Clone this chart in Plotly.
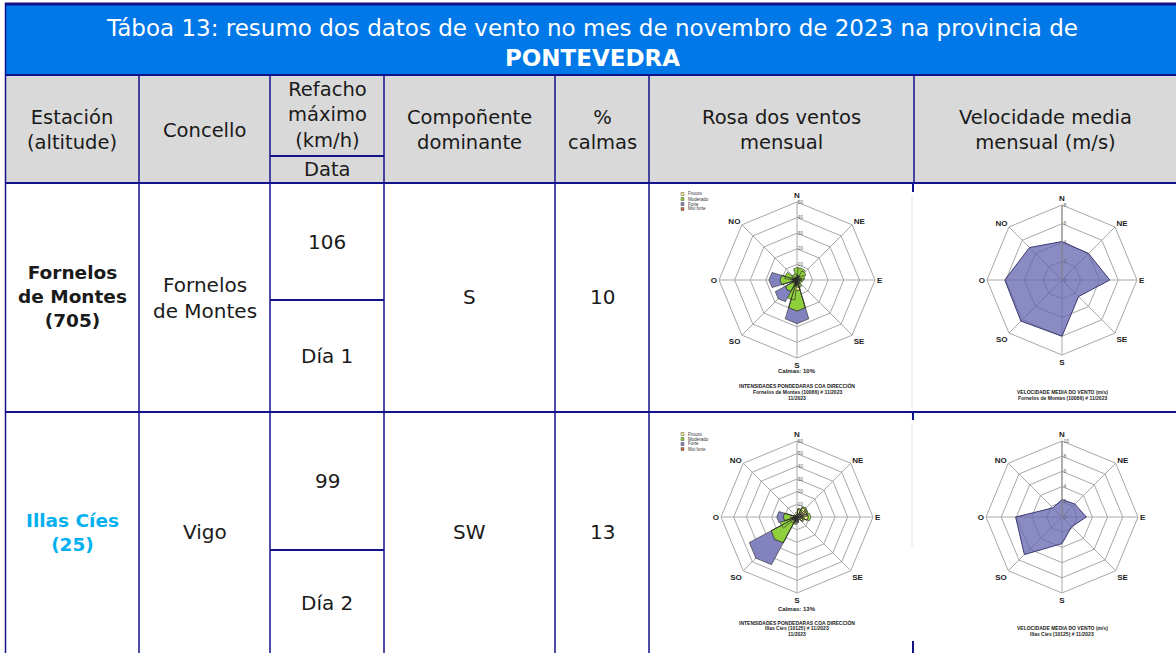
import plotly.graph_objects as go

W, H = 1176, 653

NAVY = "#12128a"
BLUE = "#0078e7"
GREY = "#d9d9d9"
CYAN = "#00b0f0"
TEXT = "#1a1a1a"
FONT = "DejaVu Sans"
CHART_FONT = "Liberation Sans"

TITLE_LINE_1 = "Táboa 13: resumo dos datos de vento no mes de novembro de 2023 na provincia de"
TITLE_LINE_2 = "PONTEVEDRA"

HEADERS = [
    "Estación<br>(altitude)",
    "Concello",
    "Refacho<br>máximo<br>(km/h)",
    "Compoñente<br>dominante",
    "%<br>calmas",
    "Rosa dos ventos<br>mensual",
    "Velocidade media<br>mensual (m/s)",
]
HEADER_DATE = "Data"

STATIONS = ["Fornelos<br>de Montes<br>(705)", "Illas Cíes<br>(25)"]
STATION_COLORS = [TEXT, CYAN]
COUNCILS = ["Fornelos<br>de Montes", "Vigo"]
MAX_GUST = ["106", "99"]
GUST_DAY = ["Día 1", "Día 2"]
DOMINANT = ["S", "SW"]
CALM = [10, 13]
STATION_CODES = ["Fornelos de Montes (10086)", "Illas Cíes (10125)"]
MONTH = "11/2023"

ROSE_DIRECTIONS = ["N", "NNE", "NE", "ENE", "E", "ESE", "SE", "SSE",
                   "S", "SSO", "SO", "OSO", "O", "ONO", "NO", "NNO"]
ROSE_CLASSES = ["Frouxo", "Moderado", "Forte", "Moi forte"]
ROSE_COLORS = ["#f0f08c", "#8fcf3c", "#8282be", "#c0704a"]

# % frequency per direction and class
FORNELOS_ROSE = [
    [3, 3, 3, 2, 3, 2, 2, 3, 7, 4, 3, 2, 4, 3, 2, 2],
    [5, 5, 4, 3, 1, 1, 0, 2, 13, 9, 6, 1, 7, 5, 2, 2],
    [0, 0, 0, 0, 0, 0, 0, 0, 8, 0, 8, 0, 7, 0, 0, 0],
    [0, 0, 0, 0, 0, 0, 0, 0, 0, 0, 0, 0, 0, 0, 0, 0],
]
CIES_ROSE = [
    [4, 6, 9, 8, 9, 5, 3, 2, 3, 3, 6, 4, 5, 2, 1, 2],
    [0, 1, 1, 1, 2, 1, 0, 0, 1, 3, 19, 10, 6, 1, 0, 0],
    [0, 0, 0, 0, 0, 0, 0, 0, 1, 0, 21, 0, 5, 0, 0, 0],
    [0, 0, 0, 0, 0, 0, 0, 0, 0, 0, 0, 0, 0, 0, 0, 0],
]
ROSE_MAX = [50, 60]

SPEED_DIRECTIONS = ["N", "NE", "E", "SE", "S", "SO", "O", "NO"]
FORNELOS_SPEED = [4.1, 4.0, 5.1, 2.5, 6.0, 6.2, 6.1, 4.9]
CIES_SPEED = [2.3, 2.4, 3.2, 1.8, 3.5, 7.0, 6.1, 1.7]
SPEED_MAX = [8, 10]

COLS = [5, 139, 270, 384, 555, 649, 914, 1176]
ROWS = [3, 75, 183, 412, 653]
DATE_SPLIT = [156, 300, 550]


def px(x):
    return x / W


def py(y):
    return 1 - y / H


shapes = []
annotations = []


def rect(x0, y0, x1, y1, fill):
    shapes.append(dict(type="rect", xref="paper", yref="paper", x0=px(x0), x1=px(x1),
                       y0=py(y1), y1=py(y0), fillcolor=fill, line=dict(width=0), layer="below"))


def line(x0, y0, x1, y1, width=1.5, color=NAVY):
    shapes.append(dict(type="line", xref="paper", yref="paper", x0=px(x0), x1=px(x1),
                       y0=py(y0), y1=py(y1), line=dict(color=color, width=width), layer="below"))


def text(x, y, s, size=20, color=TEXT, family=FONT, weight="normal"):
    annotations.append(dict(x=px(x), y=py(y), xref="paper", yref="paper", text=s,
                            showarrow=False, xanchor="center", yanchor="middle",
                            font=dict(family=family, size=size, color=color, weight=weight)))


# Table background and grid
rect(COLS[0], ROWS[0], W, ROWS[1], BLUE)
rect(COLS[0], ROWS[1], W, ROWS[2], GREY)
line(COLS[0], ROWS[0] + 1, W, ROWS[0] + 1, width=3)
line(COLS[0], ROWS[1], W, ROWS[1], width=2)
line(COLS[0], ROWS[2], W, ROWS[2], width=2)
line(COLS[0], ROWS[3], W, ROWS[3], width=2)
line(COLS[0] + 0.5, ROWS[0], COLS[0] + 0.5, H)
for x in COLS[1:6]:
    line(x, ROWS[1], x, H)
line(COLS[6], ROWS[1], COLS[6], ROWS[2])
for y0, y1 in [(ROWS[2], ROWS[2] + 9), (ROWS[3], ROWS[3] + 8), (H - 12, H)]:
    line(COLS[6] - 1, y0, COLS[6] - 1, y1, width=2)
line(COLS[6] - 2, ROWS[2] + 12, COLS[6] - 2, ROWS[3] - 2, width=1, color="#e6e6e6")
line(COLS[6] - 2, ROWS[3] + 10, COLS[6] - 2, ROWS[3] + 135, width=1, color="#e6e6e6")
for y in DATE_SPLIT:
    line(COLS[2], y, COLS[3], y, width=2)

# Title
text(592, 43, TITLE_LINE_1 + "<br><b>" + TITLE_LINE_2 + "</b>", size=23, color="white")

# Header
header_mid = [130, 130, 115, 130, 130, 130, 130]
for i, h in enumerate(HEADERS):
    text((COLS[i] + COLS[i + 1]) / 2, header_mid[i], h, size=19.5)
text((COLS[2] + COLS[3]) / 2, 170, HEADER_DATE, size=19.5)

# Body
row_mid = [297, 532]
gust_y = [242, 481]
day_y = [356, 603]
council_mid = [298, 532]
for i in range(2):
    text((COLS[0] + COLS[1]) / 2, row_mid[i], STATIONS[i], size=18.5,
         color=STATION_COLORS[i], weight="bold")
    text((COLS[1] + COLS[2]) / 2, council_mid[i], COUNCILS[i])
    text((COLS[2] + COLS[3]) / 2, gust_y[i], MAX_GUST[i])
    text((COLS[2] + COLS[3]) / 2, day_y[i], GUST_DAY[i])
    text((COLS[3] + COLS[4]) / 2, row_mid[i], DOMINANT[i])
    text((COLS[4] + COLS[5]) / 2, row_mid[i], str(CALM[i]))

# Chart positions (centre x, centre y, radius)
ROSE_POS = [(797, 280, 78), (797, 517, 76)]
SPEED_POS = [(1062, 280, 75), (1062, 517, 76)]


def domain(cx, cy, r):
    return dict(x=[px(cx - r), px(cx + r)], y=[py(cy + r), py(cy - r)])


tick_font = dict(family=CHART_FONT, size=8, color="#222", weight="bold")
small_font = dict(family=CHART_FONT, size=5, color="#666")

fig = go.Figure()
polars = {}
roses = [FORNELOS_ROSE, CIES_ROSE]
speeds = [FORNELOS_SPEED, CIES_SPEED]

for i in range(2):
    name = "polar" if i == 0 else "polar%d" % (i + 1)
    for k, cls in enumerate(ROSE_CLASSES):
        fig.add_trace(go.Barpolar(
            r=roses[i][k], theta=ROSE_DIRECTIONS, name=cls, subplot=name, width=1.5,
            marker=dict(color=ROSE_COLORS[k], line=dict(color="#2a2a2a", width=0.6)),
            showlegend=False,
        ))
    cx, cy, r = ROSE_POS[i]
    polars[name] = dict(
        domain=domain(cx, cy, r), bgcolor="white", gridshape="linear", barmode="stack",
        angularaxis=dict(type="category", categoryorder="array", categoryarray=ROSE_DIRECTIONS,
                         direction="clockwise", rotation=90, tickmode="array",
                         tickvals=ROSE_DIRECTIONS[::2], ticks="", showline=True,
                         linecolor="#a8a8a8", gridcolor="#a8a8a8", gridwidth=0.8, tickfont=tick_font),
        radialaxis=dict(range=[0, ROSE_MAX[i]], tickvals=list(range(0, ROSE_MAX[i] + 1, 10)),
                        ticksuffix="%", angle=90, tickangle=90, showline=False, ticks="",
                        gridcolor="#a8a8a8", gridwidth=0.8, tickfont=small_font),
    )

    name = "polar%d" % (i + 3)
    vals = speeds[i]
    fig.add_trace(go.Scatterpolar(
        r=vals + vals[:1], theta=SPEED_DIRECTIONS + SPEED_DIRECTIONS[:1], subplot=name,
        mode="lines", fill="toself", fillcolor="rgba(100,100,175,0.75)",
        line=dict(color="#3a3a70", width=1), showlegend=False,
    ))
    cx, cy, r = SPEED_POS[i]
    polars[name] = dict(
        domain=domain(cx, cy, r), bgcolor="white", gridshape="linear",
        angularaxis=dict(type="category", categoryorder="array", categoryarray=SPEED_DIRECTIONS,
                         direction="clockwise", rotation=90, ticks="", showline=True,
                         linecolor="#a8a8a8", gridcolor="#a8a8a8", gridwidth=0.8, tickfont=tick_font),
        radialaxis=dict(range=[0, SPEED_MAX[i]], tickvals=list(range(0, SPEED_MAX[i] + 1, 2)),
                        angle=90, tickangle=90, showline=True, linecolor="#888", ticks="",
                        gridcolor="#a8a8a8", gridwidth=0.8, tickfont=small_font),
    )

# Chart captions and rose legends
rose_caption_y = [(371, 386, 392, 398), (609, 622, 628, 634)]
speed_caption_y = [(392, 398), (628, 634)]
legend_y = [(194, 199, 204, 209), (434, 439, 444, 449)]
cap = dict(size=5, color="#222", family=CHART_FONT, weight="bold")
for i in range(2):
    cy = rose_caption_y[i]
    text(797, cy[0], "Calmas: %d%%" % CALM[i], size=6, color="#222", family=CHART_FONT, weight="bold")
    text(797, cy[1], "INTENSIDADES PONDEDARAS COA DIRECCIÓN", **cap)
    text(797, cy[2], "%s # %s" % (STATION_CODES[i], MONTH), **cap)
    text(797, cy[3], MONTH, **cap)
    sy = speed_caption_y[i]
    text(1062, sy[0], "VELOCIDADE MEDIA DO VENTO (m/s)", **cap)
    text(1062, sy[1], "%s # %s" % (STATION_CODES[i], MONTH), **cap)
    for k, cls in enumerate(ROSE_CLASSES):
        ly = legend_y[i][k]
        shapes.append(dict(type="rect", xref="paper", yref="paper", x0=px(681), x1=px(684),
                           y0=py(ly + 1.5), y1=py(ly - 1.5), fillcolor=ROSE_COLORS[k],
                           line=dict(color="#333", width=0.4)))
        annotations.append(dict(x=px(686), y=py(ly), xref="paper", yref="paper", text=cls,
                                showarrow=False, xanchor="left", yanchor="middle",
                                font=dict(family=CHART_FONT, size=4.5, color="#333")))

fig.update_layout(
    width=W, height=H, margin=dict(l=0, r=0, t=0, b=0),
    paper_bgcolor="white", plot_bgcolor="white", showlegend=False,
    shapes=shapes, annotations=annotations, **polars,
)

fig.write_html("out.html", config={"displayModeBar": False},
               post_script="document.body.style.margin = '0px';")
